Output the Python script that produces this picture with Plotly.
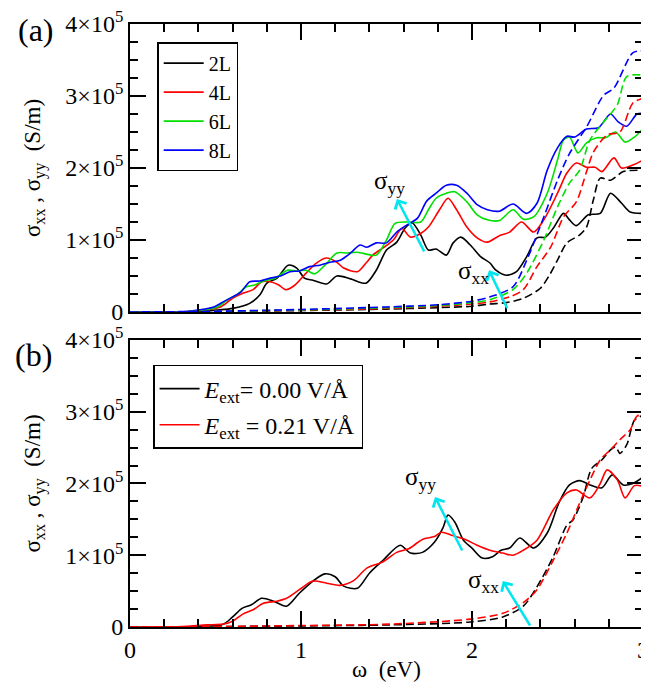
import plotly.graph_objects as go

SCALE = 1e5  # values below are in units of 10^5 S/m

# ---------------- panel (a): sigma_yy (solid) ----------------
a2L_yy_x = [0, 0.3, 0.41, 0.60, 0.70, 0.76, 0.80, 0.86, 0.925, 0.975, 1.02, 1.07, 1.15, 1.21, 1.29, 1.38, 1.44, 1.50, 1.56, 1.61, 1.65, 1.70, 1.745, 1.79, 1.85, 1.89, 1.935, 1.99, 2.05, 2.105, 2.14, 2.20, 2.26, 2.32, 2.38, 2.43, 2.48, 2.535, 2.57, 2.61, 2.68, 2.75, 2.81, 2.875, 2.925, 3.0]
a2L_yy_y = [0, 0, 0.01, 0.05, 0.12, 0.24, 0.40, 0.47, 0.65, 0.61, 0.47, 0.44, 0.39, 0.50, 0.46, 0.40, 0.58, 0.86, 0.97, 1.17, 1.24, 1.07, 0.86, 0.875, 0.79, 0.96, 1.04, 0.93, 0.77, 0.68, 0.58, 0.51, 0.56, 0.77, 1.03, 1.04, 1.18, 1.37, 1.28, 1.20, 1.35, 1.37, 1.65, 1.51, 1.39, 1.37]

a4L_yy_x = [0, 0.3, 0.41, 0.53, 0.60, 0.66, 0.72, 0.77, 0.82, 0.87, 0.91, 0.965, 1.03, 1.09, 1.15, 1.21, 1.25, 1.33, 1.38, 1.42, 1.48, 1.54, 1.59, 1.64, 1.70, 1.745, 1.81, 1.86, 1.91, 1.97, 2.03, 2.09, 2.16, 2.22, 2.29, 2.36, 2.42, 2.50, 2.555, 2.61, 2.67, 2.72, 2.76, 2.83, 2.875, 2.94, 3.0]
a4L_yy_y = [0, 0, 0.02, 0.07, 0.19, 0.26, 0.31, 0.42, 0.42, 0.375, 0.31, 0.375, 0.54, 0.68, 0.75, 0.69, 0.61, 0.56, 0.68, 0.79, 0.89, 1.0, 1.16, 1.04, 1.09, 1.18, 1.42, 1.58, 1.42, 1.18, 1.03, 0.97, 1.06, 1.11, 1.25, 1.11, 1.28, 1.65, 1.93, 2.07, 2.01, 2.01, 1.95, 2.14, 2.0, 2.04, 2.11]

a6L_yy_x = [0, 0.3, 0.41, 0.51, 0.57, 0.625, 0.68, 0.73, 0.78, 0.85, 0.92, 0.975, 1.03, 1.08, 1.14, 1.21, 1.27, 1.33, 1.44, 1.50, 1.55, 1.62, 1.70, 1.745, 1.79, 1.85, 1.90, 1.97, 2.03, 2.09, 2.16, 2.24, 2.30, 2.36, 2.44, 2.50, 2.535, 2.57, 2.62, 2.67, 2.73, 2.78, 2.84, 2.895, 2.95, 3.0]
a6L_yy_y = [0, 0, 0.02, 0.07, 0.17, 0.24, 0.35, 0.375, 0.43, 0.47, 0.58, 0.57, 0.58, 0.53, 0.65, 0.82, 0.82, 0.83, 0.79, 1.0, 1.23, 1.25, 1.25, 1.42, 1.58, 1.65, 1.67, 1.53, 1.35, 1.28, 1.27, 1.42, 1.29, 1.32, 1.65, 2.11, 2.39, 2.43, 2.21, 2.35, 2.42, 2.42, 2.50, 2.36, 2.43, 2.55]

a8L_yy_x = [0, 0.3, 0.41, 0.49, 0.545, 0.60, 0.65, 0.70, 0.76, 0.82, 0.88, 0.935, 0.99, 1.05, 1.11, 1.17, 1.23, 1.29, 1.345, 1.385, 1.44, 1.50, 1.56, 1.62, 1.68, 1.735, 1.79, 1.85, 1.91, 1.97, 2.03, 2.09, 2.16, 2.24, 2.32, 2.38, 2.44, 2.50, 2.555, 2.60, 2.67, 2.74, 2.81, 2.855, 2.905, 2.965, 3.0]
a8L_yy_y = [0, 0, 0.03, 0.07, 0.14, 0.21, 0.28, 0.42, 0.43, 0.47, 0.50, 0.56, 0.57, 0.63, 0.65, 0.69, 0.72, 0.82, 0.93, 0.90, 0.96, 0.96, 1.11, 1.21, 1.30, 1.54, 1.65, 1.76, 1.76, 1.65, 1.49, 1.42, 1.40, 1.50, 1.37, 1.51, 1.97, 2.28, 2.44, 2.43, 2.54, 2.56, 2.75, 2.64, 2.58, 2.75, 2.76]

# ---------------- panel (a): sigma_xx (dashed) ----------------
a2L_xx_x = [0, 0.5, 1.0, 1.5, 1.8, 2.0, 2.1, 2.2, 2.3, 2.4, 2.45, 2.5, 2.555, 2.63, 2.67, 2.71, 2.75, 2.81, 2.885, 3.0]
a2L_xx_y = [0, 0.005, 0.02, 0.04, 0.06, 0.08, 0.11, 0.13, 0.19, 0.33, 0.50, 0.72, 0.96, 1.07, 1.18, 1.56, 1.86, 1.83, 1.95, 1.97]

a4L_xx_x = [0, 0.5, 1.0, 1.5, 1.8, 2.0, 2.105, 2.22, 2.30, 2.38, 2.46, 2.535, 2.61, 2.67, 2.71, 2.79, 2.865, 2.94, 3.0]
a4L_xx_y = [0, 0.007, 0.025, 0.05, 0.08, 0.11, 0.14, 0.21, 0.31, 0.63, 0.90, 1.32, 1.53, 1.95, 2.22, 2.46, 2.50, 2.90, 2.97]

a6L_xx_x = [0, 0.5, 1.0, 1.5, 1.8, 2.0, 2.105, 2.24, 2.32, 2.42, 2.50, 2.57, 2.63, 2.69, 2.77, 2.85, 2.905, 3.0]
a6L_xx_y = [0, 0.008, 0.03, 0.06, 0.09, 0.13, 0.17, 0.31, 0.54, 1.0, 1.46, 1.79, 1.97, 2.39, 2.64, 2.88, 3.27, 3.29]

a8L_xx_x = [0, 0.5, 1.0, 1.5, 1.8, 2.0, 2.105, 2.24, 2.32, 2.42, 2.50, 2.57, 2.67, 2.77, 2.83, 2.94, 3.0]
a8L_xx_y = [0, 0.01, 0.035, 0.07, 0.10, 0.15, 0.21, 0.35, 0.72, 1.32, 1.83, 2.20, 2.57, 3.01, 3.11, 3.60, 3.63]

# ---------------- panel (b): sigma_yy (solid) ----------------
b0_yy_x = [0, 0.33, 0.545, 0.60, 0.655, 0.71, 0.77, 0.84, 0.915, 0.99, 1.07, 1.14, 1.20, 1.25, 1.33, 1.40, 1.48, 1.58, 1.64, 1.71, 1.78, 1.83, 1.86, 1.90, 1.95, 2.0, 2.06, 2.12, 2.17, 2.22, 2.28, 2.36, 2.44, 2.51, 2.57, 2.63, 2.69, 2.76, 2.82, 2.885, 2.94, 3.0]
b0_yy_y = [0, 0, 0.04, 0.14, 0.26, 0.31, 0.40, 0.36, 0.29, 0.47, 0.64, 0.74, 0.70, 0.57, 0.54, 0.75, 0.93, 1.14, 1.03, 1.04, 1.18, 1.38, 1.56, 1.46, 1.21, 1.10, 0.96, 0.98, 1.07, 1.10, 1.24, 1.10, 1.31, 1.74, 1.98, 2.04, 1.98, 1.94, 2.12, 1.98, 2.0, 2.09]

b21_yy_x = [0, 0.23, 0.33, 0.45, 0.545, 0.60, 0.66, 0.72, 0.78, 0.86, 0.915, 0.99, 1.07, 1.15, 1.23, 1.31, 1.385, 1.48, 1.56, 1.63, 1.71, 1.78, 1.82, 1.88, 1.95, 2.03, 2.105, 2.18, 2.24, 2.30, 2.38, 2.475, 2.555, 2.61, 2.69, 2.75, 2.79, 2.85, 2.895, 2.95, 3.0]
b21_yy_y = [0, 0, 0.01, 0.03, 0.04, 0.08, 0.18, 0.24, 0.33, 0.36, 0.40, 0.52, 0.64, 0.61, 0.58, 0.65, 0.82, 0.91, 1.04, 1.09, 1.22, 1.26, 1.32, 1.28, 1.23, 1.14, 1.07, 1.03, 1.0, 1.07, 1.21, 1.63, 1.87, 1.91, 1.80, 2.0, 2.19, 2.05, 1.80, 1.97, 1.96]

# ---------------- panel (b): sigma_xx (dashed) ----------------
b0_xx_x = [0, 0.5, 1.0, 1.52, 1.99, 2.18, 2.30, 2.38, 2.475, 2.555, 2.59, 2.65, 2.70, 2.76, 2.81, 2.84, 2.865, 2.905, 2.95, 3.0]
b0_xx_y = [0, 0.005, 0.015, 0.03, 0.07, 0.14, 0.29, 0.56, 0.98, 1.42, 1.49, 1.81, 2.21, 2.33, 2.47, 2.51, 2.42, 2.54, 2.88, 2.95]

b21_xx_x = [0, 0.5, 1.0, 1.52, 1.99, 2.18, 2.30, 2.38, 2.475, 2.555, 2.63, 2.69, 2.75, 2.81, 2.865, 2.925, 2.965, 3.0]
b21_xx_y = [0, 0.006, 0.02, 0.04, 0.11, 0.19, 0.34, 0.52, 0.93, 1.31, 1.73, 2.05, 2.33, 2.47, 2.61, 2.75, 2.94, 2.95]

# ticks
y_tickvals = [0, 1, 2, 3, 4]
y_ticktext = ["0", "1×10<sup>5</sup>", "2×10<sup>5</sup>", "3×10<sup>5</sup>", "4×10<sup>5</sup>"]
x_tickvals = [0, 1, 2, 3]
x_ticktext = ["0", "1", "2", "3"]

FONT = "Liberation Serif, Times New Roman, serif"
GREEN = "#00e000"
CYAN = "#00e5ee"

fig = go.Figure()

def add(x, y, color, name, xa, ya, dash="solid", legend="legend", show=True, group=None):
    fig.add_trace(go.Scatter(
        x=x, y=[v * SCALE for v in y], mode="lines", name=name,
        line=dict(color=color, width=1.6, dash=dash, shape="spline", smoothing=0.8),
        xaxis=xa, yaxis=ya, showlegend=show, legend=legend,
        legendgroup=group if group else name, hoverinfo="skip"))

DASH = "8px,4px"
# panel (a)
add(a2L_yy_x, a2L_yy_y, "black", "2L", "x", "y")
add(a4L_yy_x, a4L_yy_y, "red", "4L", "x", "y")
add(a6L_yy_x, a6L_yy_y, GREEN, "6L", "x", "y")
add(a8L_yy_x, a8L_yy_y, "blue", "8L", "x", "y")
add(a2L_xx_x, a2L_xx_y, "black", "2L xx", "x", "y", DASH, show=False)
add(a4L_xx_x, a4L_xx_y, "red", "4L xx", "x", "y", DASH, show=False)
add(a6L_xx_x, a6L_xx_y, GREEN, "6L xx", "x", "y", DASH, show=False)
add(a8L_xx_x, a8L_xx_y, "blue", "8L xx", "x", "y", DASH, show=False)
# panel (b)
add(b0_yy_x, b0_yy_y, "black", "<i>E</i><sub>ext</sub>= 0.00 V/Å", "x2", "y2", legend="legend2", group="b0")
add(b21_yy_x, b21_yy_y, "red", "<i>E</i><sub>ext</sub> = 0.21 V/Å", "x2", "y2", legend="legend2", group="b21")
add(b0_xx_x, b0_xx_y, "black", "b0 xx", "x2", "y2", DASH, show=False)
add(b21_xx_x, b21_xx_y, "red", "b21 xx", "x2", "y2", DASH, show=False)

def xaxis(domain_anchor, labels):
    return dict(
        range=[0, 3], domain=[0, 1], anchor=domain_anchor, automargin=False,
        showline=True, linecolor="black", linewidth=1.8, mirror="allticks",
        ticks="inside", ticklen=16, tickwidth=1.5, tickcolor="black",
        tickvals=x_tickvals, ticktext=x_ticktext, showticklabels=labels,
        ticklabeloverflow="allow",
        minor=dict(dtick=0.2, ticks="inside", ticklen=8, tickwidth=1.5, tickcolor="black"),
        showgrid=False, zeroline=False,
        tickfont=dict(family=FONT, size=24, color="black"))

def yaxis(dom, anchor):
    return dict(
        range=[0, 4 * SCALE], domain=dom, anchor=anchor, automargin=False,
        showline=True, linecolor="black", linewidth=1.8, mirror="allticks",
        ticks="inside", ticklen=16, tickwidth=1.5, tickcolor="black",
        tickvals=[v * SCALE for v in y_tickvals], ticktext=y_ticktext,
        ticklabeloverflow="allow",
        minor=dict(dtick=0.25 * SCALE, ticks="inside", ticklen=8, tickwidth=1.5, tickcolor="black"),
        showgrid=False, zeroline=False,
        tickfont=dict(family=FONT, size=24, color="black"),
        title=dict(text="σ<sub>xx</sub> , σ<sub>yy</sub>  (S/m)", standoff=18,
                   font=dict(family=FONT, size=23, color="black")))

# the page adds an 8 px body margin, so the figure is 8 px smaller and margins shifted
fig.update_layout(
    width=641, height=674,
    margin=dict(l=122, r=6, t=16, b=55, autoexpand=False),
    paper_bgcolor="white", plot_bgcolor="white",
    font=dict(family=FONT, color="black"),
    xaxis=xaxis("y", False),
    yaxis=yaxis([0.5224, 1.0], "x"),
    xaxis2=xaxis("y2", True),
    yaxis2=yaxis([0.0, 0.476], "x2"),
    legend=dict(x=0.053, y=0.970, xanchor="left", yanchor="top",
                bordercolor="black", borderwidth=1.5, bgcolor="white",
                font=dict(family=FONT, size=20, color="black"),
                tracegroupgap=0, itemwidth=40),
    legend2=dict(x=0.045, y=0.4345, xanchor="left", yanchor="top",
                 bordercolor="black", borderwidth=1.5, bgcolor="white",
                 font=dict(family=FONT, size=24, color="black"),
                 tracegroupgap=2, itemwidth=40),
    showlegend=True,
)
fig.update_layout(xaxis2=dict(title=dict(text="ω  (eV)", standoff=4,
                                         font=dict(family=FONT, size=23, color="black"))))

# annotations: labels and arrows
ann = []
def arrow(xref, yref, x_tip, y_tip, x_tail, y_tail):
    ann.append(dict(x=x_tip, y=y_tip * SCALE, ax=x_tail, ay=y_tail * SCALE,
                    xref=xref, yref=yref, axref=xref, ayref=yref,
                    showarrow=True, arrowhead=4, arrowsize=1.0, arrowwidth=2.5,
                    arrowcolor=CYAN, text=""))
def label(xref, yref, x, y, txt):
    ann.append(dict(x=x, y=y * SCALE, xref=xref, yref=yref, text=txt, showarrow=False,
                    font=dict(family=FONT, size=25, color="black")))

arrow("x", "y", 1.561, 1.57, 1.725, 0.82)
label("x", "y", 1.52, 1.80, "σ<sub>yy</sub>")
arrow("x", "y", 2.10, 0.58, 2.21, 0.03)
label("x", "y", 2.01, 0.55, "σ<sub>xx</sub>")
arrow("x2", "y2", 1.784, 1.81, 1.947, 1.045)
label("x2", "y2", 1.70, 2.07, "σ<sub>yy</sub>")
arrow("x2", "y2", 2.18, 0.64, 2.345, 0.0)
label("x2", "y2", 2.07, 0.64, "σ<sub>xx</sub>")

ann.append(dict(x=-0.222, y=0.990, xref="paper", yref="paper", xanchor="left", yanchor="middle",
                text="(a)", showarrow=False, font=dict(family=FONT, size=32, color="black")))
ann.append(dict(x=-0.228, y=0.451, xref="paper", yref="paper", xanchor="left", yanchor="middle",
                text="(b)", showarrow=False, font=dict(family=FONT, size=32, color="black")))
fig.update_layout(annotations=ann)

fig.write_html("out.html")
